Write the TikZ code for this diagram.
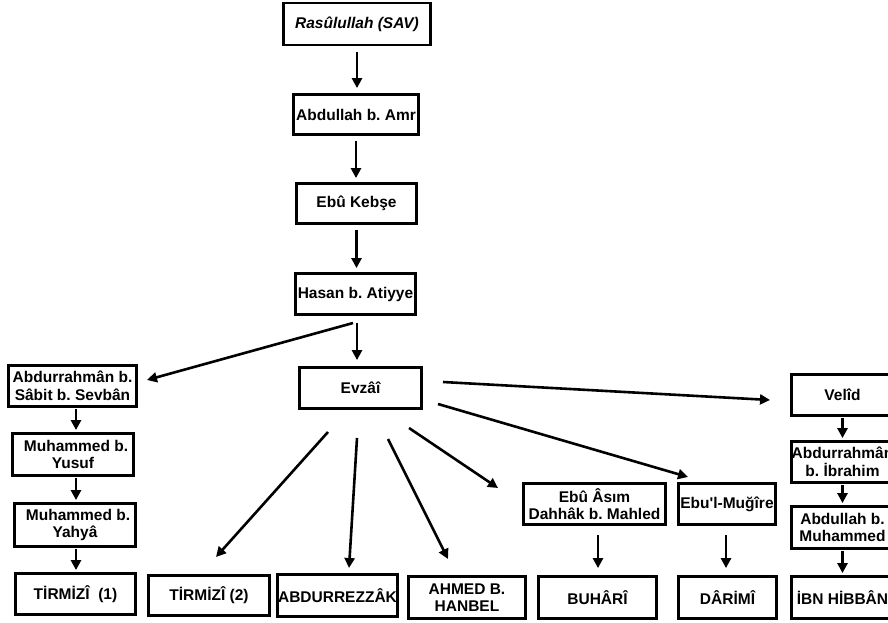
\documentclass[tikz,border=0pt]{standalone}
\usepackage{fontspec}
\setmainfont{Liberation Sans}[Ligatures=TeXOff]
\usetikzlibrary{arrows.meta}
\frenchspacing
\begin{document}
\begin{tikzpicture}[x=1pt,y=-1pt,
  bx/.style={draw, line width=2.8pt, inner sep=0pt, align=center,
    font=\fontsize{15.5}{17.5}\selectfont\bfseries},
  arr/.style={line width=2.6pt, -{Triangle[length=10pt,width=10pt]}}]
\useasboundingbox (0,0) rectangle (888,623);
\fill[white] (0,0) rectangle (888,623);
% chain
\node[bx, minimum width=147, minimum height=42] (ras) at (357,24) {\itshape Rasûlullah (SAV)};
\node[bx, minimum width=125, minimum height=40] (abd) at (356,114.5) {Abdullah b. Amr};
\node[bx, minimum width=120, minimum height=40] (keb) at (356.5,203.5) {Ebû Kebşe};
\node[bx, minimum width=120, minimum height=41] (has) at (355.5,294) {Hasan b. Atiyye};
\node[bx, minimum width=122, minimum height=41] (evz) at (360.5,388) {Evzâî};
% left column
\node[bx, minimum width=128, minimum height=41] (ab1) at (72.5,386) {Abdurrahmân b.\\Sâbit b. Sevbân};
\node[bx, minimum width=121, minimum height=42] (my) at (73,454.5) {\hspace*{6pt}Muhammed b.\\Yusuf};
\node[bx, minimum width=121, minimum height=43] (myh) at (75,525) {\hspace*{6pt}Muhammed b.\\Yahyâ};
\node[bx, minimum width=120, minimum height=41] (t1) at (75.5,594) {TİRMİZÎ\ \ (1)};
% bottom row
\node[bx, minimum width=121, minimum height=40] (t2) at (209,595.5) {TİRMİZÎ (2)};
\node[bx, minimum width=120, minimum height=42] (abr) at (337.5,595.5) {ABDURREZZÂK};
\node[bx, minimum width=117, minimum height=42] (ahm) at (467,597.5) {AHMED B.\\HANBEL};
\node[bx, minimum width=142, minimum height=41] (ebu) at (594.5,504) {Ebû Âsım\\Dahhâk b. Mahled};
\node[bx, minimum width=97, minimum height=41] (mug) at (727,504) {Ebu'l-Muğîre};
\node[bx, minimum width=118, minimum height=42] (buh) at (597.5,597.5) {BUHÂRÎ};
\node[bx, minimum width=98, minimum height=42] (dar) at (727.5,597.5) {DÂRİMÎ};
% right column
\node[bx, minimum width=102, minimum height=41] (vel) at (842.5,395) {Velîd};
\node[bx, minimum width=102, minimum height=41] (abi) at (842.5,462) {Abdurrahmân\\b. İbrahim};
\node[bx, minimum width=102, minimum height=42] (abm) at (842.5,527.5) {Abdullah b.\\Muhammed};
\node[bx, minimum width=102, minimum height=42] (ibn) at (842.5,597.5) {İBN HİBBÂN};
% vertical chain arrows
\draw[arr, shorten <=6pt, shorten >=5pt] (ras.south) -- (ras.south |- abd.north);
\draw[arr, shorten <=5pt, shorten >=4pt] (abd.south) -- (abd.south |- keb.north);
\draw[arr, shorten <=5pt, shorten >=4pt] (keb.south) -- (keb.south |- has.north);
\draw[arr, shorten <=7pt, shorten >=6pt] ([xshift=1.5pt]has.south) -- ([xshift=1.5pt]has.south |- evz.north);
% fan coordinates
\coordinate (h1) at (353,323);
\coordinate (a1) at (147,380);
\coordinate (e1) at (443,382);
\coordinate (v1) at (770,400);
\coordinate (e2) at (438,404);
\coordinate (m1) at (688,477);
\coordinate (e3) at (409,428);
\coordinate (b1) at (498,488);
\coordinate (e4) at (388,439);
\coordinate (c1) at (448,559);
\coordinate (e5) at (357,438);
\coordinate (d1) at (349,568);
\coordinate (e6) at (328,432);
\coordinate (f1) at (216,557);
\draw[arr] (h1) -- (a1);
\draw[arr] (e1) -- (v1);
\draw[arr] (e2) -- (m1);
\draw[arr] (e3) -- (b1);
\draw[arr] (e4) -- (c1);
\draw[arr] (e5) -- (d1);
\draw[arr] (e6) -- (f1);
% left column arrows
\draw[arr, shorten <=1pt, shorten >=2pt] ([xshift=3.5pt]ab1.south) -- ([xshift=3.5pt]ab1.south |- my.north);
\draw[arr, shorten <=1pt, shorten >=2pt] ([xshift=3pt]my.south) -- ([xshift=3pt]my.south |- myh.north);
\draw[arr, shorten <=1pt, shorten >=2pt] ([xshift=1pt]myh.south) -- ([xshift=1pt]myh.south |- t1.north);
% lower middle arrows
\draw[arr, shorten <=9pt, shorten >=7pt] ([xshift=3.5pt]ebu.south) -- ([xshift=3.5pt]ebu.south |- buh.north);
\draw[arr, shorten <=9pt, shorten >=7pt] ([xshift=-1pt]mug.south) -- ([xshift=-1pt]mug.south |- dar.north);
% right column arrows
\draw[arr, shorten <=1pt, shorten >=2pt] (vel.south) -- (vel.south |- abi.north);
\draw[arr, shorten <=1pt, shorten >=2pt] (abi.south) -- (abi.south |- abm.north);
\draw[arr, shorten <=1pt, shorten >=2pt] (abm.south) -- (abm.south |- ibn.north);
\end{tikzpicture}
\end{document}
